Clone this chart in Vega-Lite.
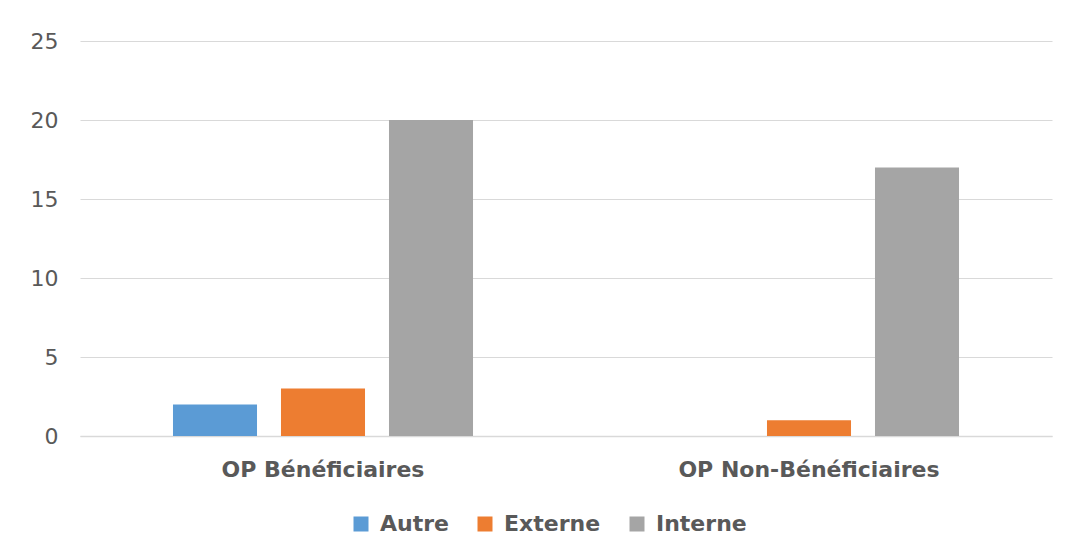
{
  "$schema": "https://vega.github.io/schema/vega-lite/v6.json",
  "autosize": "none",
  "width": 972,
  "height": 395,
  "padding": {"left": 80, "top": 41, "right": 19, "bottom": 123},
  "background": "white",
  "config": {
    "view": {"stroke": null},
    "font": "DejaVu Sans"
  },
  "data": {
    "values": [
      {"groupe": "OP Bénéficiaires", "source": "Autre", "valeur": 2},
      {"groupe": "OP Bénéficiaires", "source": "Externe", "valeur": 3},
      {"groupe": "OP Bénéficiaires", "source": "Interne", "valeur": 20},
      {"groupe": "OP Non-Bénéficiaires", "source": "Autre", "valeur": 0},
      {"groupe": "OP Non-Bénéficiaires", "source": "Externe", "valeur": 1},
      {"groupe": "OP Non-Bénéficiaires", "source": "Interne", "valeur": 17}
    ]
  },
  "mark": {"type": "bar"},
  "encoding": {
    "x": {
      "field": "groupe",
      "type": "nominal",
      "sort": null,
      "scale": {"paddingInner": 0, "paddingOuter": 0},
      "axis": {
        "title": null,
        "labelAngle": 0,
        "labelLimit": 0,
        "domain": true,
        "domainColor": "#d9d9d9",
        "domainWidth": 1.5,
        "ticks": false,
        "labelFontSize": 22,
        "labelFontWeight": "bold",
        "labelColor": "#595959",
        "labelPadding": 23
      }
    },
    "xOffset": {
      "field": "source",
      "type": "nominal",
      "scale": {"paddingInner": 0.222, "paddingOuter": 0.861}
    },
    "y": {
      "field": "valeur",
      "type": "quantitative",
      "scale": {"domain": [0, 25], "nice": false},
      "axis": {
        "title": null,
        "values": [0, 5, 10, 15, 20, 25],
        "domain": false,
        "ticks": false,
        "grid": true,
        "gridColor": "#d9d9d9",
        "gridWidth": 1.2,
        "labelFontSize": 22,
        "labelColor": "#595959",
        "labelPadding": 22
      }
    },
    "color": {
      "field": "source",
      "type": "nominal",
      "scale": {"domain": ["Autre", "Externe", "Interne"], "range": ["#5B9BD5", "#ED7D31", "#A5A5A5"]},
      "legend": {
        "title": null,
        "orient": "none",
        "legendX": 270,
        "legendY": 472,
        "direction": "horizontal",
        "symbolType": "square",
        "symbolSize": 225,
        "symbolStrokeWidth": 0,
        "labelFontSize": 22,
        "labelFontWeight": "bold",
        "labelColor": "#595959",
        "labelOffset": 8,
        "columnPadding": 25
      }
    }
  }
}
